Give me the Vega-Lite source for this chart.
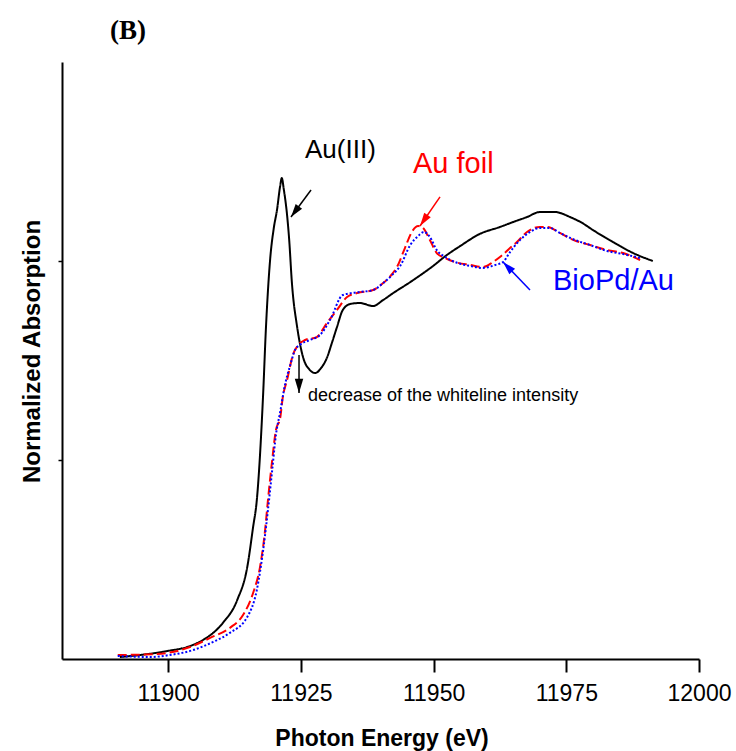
{
  "$schema": "https://vega.github.io/schema/vega-lite/v6.json",
  "width": 637,
  "height": 597,
  "autosize": "none",
  "padding": {"left": 62, "top": 62, "right": 37, "bottom": 92},
  "background": "white",
  "config": {"view": {"stroke": null}},
  "title": {
    "text": "(B)",
    "font": "Liberation Serif",
    "fontSize": 27,
    "fontWeight": "bold",
    "color": "black",
    "anchor": "start",
    "frame": "group",
    "baseline": "alphabetic",
    "dx": 48,
    "dy": 26,
    "offset": 22
  },
  "datasets": {
    "spectra": [
      {"series": "Au(III)", "energy": 11890.9, "absorption": 0.010},
      {"series": "Au(III)", "energy": 11894.7, "absorption": 0.020},
      {"series": "Au(III)", "energy": 11899.8, "absorption": 0.040},
      {"series": "Au(III)", "energy": 11904.1, "absorption": 0.065},
      {"series": "Au(III)", "energy": 11906.9, "absorption": 0.101},
      {"series": "Au(III)", "energy": 11910.3, "absorption": 0.181},
      {"series": "Au(III)", "energy": 11913.0, "absorption": 0.296},
      {"series": "Au(III)", "energy": 11914.9, "absorption": 0.462},
      {"series": "Au(III)", "energy": 11916.0, "absorption": 0.663},
      {"series": "Au(III)", "energy": 11916.7, "absorption": 0.799},
      {"series": "Au(III)", "energy": 11917.9, "absorption": 1.337},
      {"series": "Au(III)", "energy": 11918.4, "absorption": 1.653},
      {"series": "Au(III)", "energy": 11919.2, "absorption": 2.005},
      {"series": "Au(III)", "energy": 11919.9, "absorption": 2.166},
      {"series": "Au(III)", "energy": 11920.5, "absorption": 2.256},
      {"series": "Au(III)", "energy": 11921.1, "absorption": 2.377},
      {"series": "Au(III)", "energy": 11921.4, "absorption": 2.417},
      {"series": "Au(III)", "energy": 11921.8, "absorption": 2.357},
      {"series": "Au(III)", "energy": 11922.4, "absorption": 2.231},
      {"series": "Au(III)", "energy": 11922.8, "absorption": 2.106},
      {"series": "Au(III)", "energy": 11923.3, "absorption": 1.894},
      {"series": "Au(III)", "energy": 11924.3, "absorption": 1.668},
      {"series": "Au(III)", "energy": 11925.4, "absorption": 1.518},
      {"series": "Au(III)", "energy": 11926.7, "absorption": 1.452},
      {"series": "Au(III)", "energy": 11927.7, "absorption": 1.437},
      {"series": "Au(III)", "energy": 11928.8, "absorption": 1.462},
      {"series": "Au(III)", "energy": 11929.9, "absorption": 1.513},
      {"series": "Au(III)", "energy": 11930.9, "absorption": 1.593},
      {"series": "Au(III)", "energy": 11931.8, "absorption": 1.668},
      {"series": "Au(III)", "energy": 11932.9, "absorption": 1.754},
      {"series": "Au(III)", "energy": 11934.3, "absorption": 1.784},
      {"series": "Au(III)", "energy": 11936.1, "absorption": 1.789},
      {"series": "Au(III)", "energy": 11938.6, "absorption": 1.774},
      {"series": "Au(III)", "energy": 11940.5, "absorption": 1.804},
      {"series": "Au(III)", "energy": 11942.4, "absorption": 1.839},
      {"series": "Au(III)", "energy": 11945.6, "absorption": 1.894},
      {"series": "Au(III)", "energy": 11949.9, "absorption": 1.975},
      {"series": "Au(III)", "energy": 11952.5, "absorption": 2.030},
      {"series": "Au(III)", "energy": 11955.0, "absorption": 2.075},
      {"series": "Au(III)", "energy": 11958.7, "absorption": 2.136},
      {"series": "Au(III)", "energy": 11962.5, "absorption": 2.171},
      {"series": "Au(III)", "energy": 11965.0, "absorption": 2.196},
      {"series": "Au(III)", "energy": 11967.6, "absorption": 2.221},
      {"series": "Au(III)", "energy": 11970.0, "absorption": 2.246},
      {"series": "Au(III)", "energy": 11972.9, "absorption": 2.246},
      {"series": "Au(III)", "energy": 11975.7, "absorption": 2.221},
      {"series": "Au(III)", "energy": 11978.0, "absorption": 2.191},
      {"series": "Au(III)", "energy": 11980.0, "absorption": 2.156},
      {"series": "Au(III)", "energy": 11983.8, "absorption": 2.095},
      {"series": "Au(III)", "energy": 11987.6, "absorption": 2.040},
      {"series": "Au(III)", "energy": 11991.3, "absorption": 2.000},
      {"series": "Au foil", "energy": 11890.5, "absorption": 0.020},
      {"series": "Au foil", "energy": 11897.9, "absorption": 0.025},
      {"series": "Au foil", "energy": 11904.1, "absorption": 0.060},
      {"series": "Au foil", "energy": 11907.9, "absorption": 0.106},
      {"series": "Au foil", "energy": 11911.6, "absorption": 0.156},
      {"series": "Au foil", "energy": 11914.1, "absorption": 0.221},
      {"series": "Au foil", "energy": 11916.0, "absorption": 0.332},
      {"series": "Au foil", "energy": 11917.3, "absorption": 0.462},
      {"series": "Au foil", "energy": 11918.2, "absorption": 0.633},
      {"series": "Au foil", "energy": 11918.8, "absorption": 0.799},
      {"series": "Au foil", "energy": 11919.6, "absorption": 1.000},
      {"series": "Au foil", "energy": 11920.3, "absorption": 1.151},
      {"series": "Au foil", "energy": 11921.1, "absorption": 1.211},
      {"series": "Au foil", "energy": 11921.6, "absorption": 1.317},
      {"series": "Au foil", "energy": 11922.4, "absorption": 1.402},
      {"series": "Au foil", "energy": 11923.5, "absorption": 1.528},
      {"series": "Au foil", "energy": 11924.5, "absorption": 1.578},
      {"series": "Au foil", "energy": 11925.8, "absorption": 1.603},
      {"series": "Au foil", "energy": 11928.0, "absorption": 1.618},
      {"series": "Au foil", "energy": 11929.9, "absorption": 1.688},
      {"series": "Au foil", "energy": 11931.8, "absorption": 1.754},
      {"series": "Au foil", "energy": 11933.7, "absorption": 1.819},
      {"series": "Au foil", "energy": 11935.6, "absorption": 1.839},
      {"series": "Au foil", "energy": 11938.6, "absorption": 1.854},
      {"series": "Au foil", "energy": 11940.5, "absorption": 1.889},
      {"series": "Au foil", "energy": 11942.2, "absorption": 1.935},
      {"series": "Au foil", "energy": 11943.1, "absorption": 1.970},
      {"series": "Au foil", "energy": 11944.6, "absorption": 2.065},
      {"series": "Au foil", "energy": 11945.9, "absorption": 2.146},
      {"series": "Au foil", "energy": 11947.1, "absorption": 2.176},
      {"series": "Au foil", "energy": 11948.0, "absorption": 2.166},
      {"series": "Au foil", "energy": 11949.3, "absorption": 2.106},
      {"series": "Au foil", "energy": 11950.6, "absorption": 2.040},
      {"series": "Au foil", "energy": 11952.2, "absorption": 2.015},
      {"series": "Au foil", "energy": 11954.0, "absorption": 1.995},
      {"series": "Au foil", "energy": 11956.9, "absorption": 1.980},
      {"series": "Au foil", "energy": 11959.3, "absorption": 1.970},
      {"series": "Au foil", "energy": 11961.2, "absorption": 1.995},
      {"series": "Au foil", "energy": 11962.5, "absorption": 2.020},
      {"series": "Au foil", "energy": 11964.4, "absorption": 2.065},
      {"series": "Au foil", "energy": 11965.7, "absorption": 2.095},
      {"series": "Au foil", "energy": 11967.6, "absorption": 2.146},
      {"series": "Au foil", "energy": 11970.0, "absorption": 2.171},
      {"series": "Au foil", "energy": 11971.4, "absorption": 2.171},
      {"series": "Au foil", "energy": 11973.8, "absorption": 2.141},
      {"series": "Au foil", "energy": 11976.3, "absorption": 2.106},
      {"series": "Au foil", "energy": 11979.5, "absorption": 2.080},
      {"series": "Au foil", "energy": 11982.7, "absorption": 2.055},
      {"series": "Au foil", "energy": 11985.7, "absorption": 2.040},
      {"series": "Au foil", "energy": 11988.9, "absorption": 2.005},
      {"series": "BioPd/Au", "energy": 11890.5, "absorption": 0.015},
      {"series": "BioPd/Au", "energy": 11896.6, "absorption": 0.010},
      {"series": "BioPd/Au", "energy": 11900.3, "absorption": 0.020},
      {"series": "BioPd/Au", "energy": 11904.7, "absorption": 0.045},
      {"series": "BioPd/Au", "energy": 11908.4, "absorption": 0.085},
      {"series": "BioPd/Au", "energy": 11911.6, "absorption": 0.131},
      {"series": "BioPd/Au", "energy": 11914.9, "absorption": 0.211},
      {"series": "BioPd/Au", "energy": 11916.7, "absorption": 0.347},
      {"series": "BioPd/Au", "energy": 11917.9, "absorption": 0.548},
      {"series": "BioPd/Au", "energy": 11918.8, "absorption": 0.749},
      {"series": "BioPd/Au", "energy": 11919.6, "absorption": 0.950},
      {"series": "BioPd/Au", "energy": 11920.3, "absorption": 1.126},
      {"series": "BioPd/Au", "energy": 11921.1, "absorption": 1.241},
      {"series": "BioPd/Au", "energy": 11922.0, "absorption": 1.377},
      {"series": "BioPd/Au", "energy": 11923.0, "absorption": 1.477},
      {"series": "BioPd/Au", "energy": 11923.9, "absorption": 1.553},
      {"series": "BioPd/Au", "energy": 11924.8, "absorption": 1.578},
      {"series": "BioPd/Au", "energy": 11926.7, "absorption": 1.603},
      {"series": "BioPd/Au", "energy": 11928.6, "absorption": 1.628},
      {"series": "BioPd/Au", "energy": 11930.5, "absorption": 1.704},
      {"series": "BioPd/Au", "energy": 11932.9, "absorption": 1.829},
      {"series": "BioPd/Au", "energy": 11936.1, "absorption": 1.844},
      {"series": "BioPd/Au", "energy": 11938.6, "absorption": 1.854},
      {"series": "BioPd/Au", "energy": 11940.5, "absorption": 1.889},
      {"series": "BioPd/Au", "energy": 11942.4, "absorption": 1.935},
      {"series": "BioPd/Au", "energy": 11943.7, "absorption": 1.975},
      {"series": "BioPd/Au", "energy": 11945.6, "absorption": 2.080},
      {"series": "BioPd/Au", "energy": 11947.1, "absorption": 2.126},
      {"series": "BioPd/Au", "energy": 11948.2, "absorption": 2.146},
      {"series": "BioPd/Au", "energy": 11949.3, "absorption": 2.121},
      {"series": "BioPd/Au", "energy": 11950.6, "absorption": 2.055},
      {"series": "BioPd/Au", "energy": 11952.2, "absorption": 2.020},
      {"series": "BioPd/Au", "energy": 11954.0, "absorption": 1.995},
      {"series": "BioPd/Au", "energy": 11956.9, "absorption": 1.975},
      {"series": "BioPd/Au", "energy": 11959.3, "absorption": 1.965},
      {"series": "BioPd/Au", "energy": 11961.6, "absorption": 1.980},
      {"series": "BioPd/Au", "energy": 11963.1, "absorption": 1.995},
      {"series": "BioPd/Au", "energy": 11964.4, "absorption": 2.045},
      {"series": "BioPd/Au", "energy": 11966.3, "absorption": 2.106},
      {"series": "BioPd/Au", "energy": 11968.2, "absorption": 2.146},
      {"series": "BioPd/Au", "energy": 11970.0, "absorption": 2.166},
      {"series": "BioPd/Au", "energy": 11971.9, "absorption": 2.166},
      {"series": "BioPd/Au", "energy": 11973.8, "absorption": 2.141},
      {"series": "BioPd/Au", "energy": 11976.6, "absorption": 2.106},
      {"series": "BioPd/Au", "energy": 11979.5, "absorption": 2.080},
      {"series": "BioPd/Au", "energy": 11982.7, "absorption": 2.050},
      {"series": "BioPd/Au", "energy": 11985.7, "absorption": 2.035},
      {"series": "BioPd/Au", "energy": 11988.9, "absorption": 2.015}
    ]
  },
  "layer": [
    {
      "data": {"name": "spectra"},
      "mark": {"type": "line", "strokeWidth": 2, "clip": false, "interpolate": "monotone"},
      "encoding": {
        "x": {
          "field": "energy",
          "type": "quantitative",
          "scale": {"domain": [11880, 12000], "nice": false, "zero": false},
          "axis": {
            "values": [11900, 11925, 11950, 11975, 12000],
            "format": "d",
            "grid": false,
            "domainColor": "black",
            "domainWidth": 2,
            "tickColor": "black",
            "tickWidth": 2,
            "tickSize": 13,
            "labelFont": "Liberation Sans",
            "labelFontSize": 23,
            "labelColor": "black",
            "labelBaseline": "alphabetic",
            "labelPadding": 28,
            "labelFlush": false,
            "labelOverlap": false,
            "title": "Photon Energy (eV)",
            "titleFont": "Liberation Sans",
            "titleFontSize": 23,
            "titleFontWeight": "bold",
            "titleColor": "black",
            "titleX": 319.5,
            "titleY": 86,
            "titleAlign": "center",
            "titleBaseline": "alphabetic"
          }
        },
        "y": {
          "field": "absorption",
          "type": "quantitative",
          "scale": {"domain": [0, 3], "nice": false},
          "axis": {
            "values": [1, 2],
            "labels": false,
            "grid": false,
            "domainColor": "black",
            "domainWidth": 2,
            "tickColor": "black",
            "tickWidth": 1.5,
            "tickSize": 4,
            "title": "Normalized Absorption",
            "titleFont": "Liberation Sans",
            "titleFontSize": 24,
            "titleFontWeight": "bold",
            "titleColor": "black",
            "titleAngle": -90,
            "titleX": -22.5,
            "titleY": 289,
            "titleAlign": "center",
            "titleBaseline": "alphabetic"
          }
        },
        "color": {
          "field": "series",
          "type": "nominal",
          "scale": {"domain": ["Au(III)", "Au foil", "BioPd/Au"], "range": ["#000000", "#FF0000", "#0000FF"]},
          "legend": null
        },
        "strokeDash": {
          "field": "series",
          "type": "nominal",
          "scale": {"domain": ["Au(III)", "Au foil", "BioPd/Au"], "range": [[1, 0], [9, 4], [2, 2]]},
          "legend": null
        }
      }
    },
    {
      "data": {"values": [{"x1": 11926.91, "y1": 2.357, "x2": 11923.14, "y2": 2.221}]},
      "layer": [
        {"mark": {"type": "rule", "color": "black", "strokeWidth": 1.5},
         "encoding": {"x": {"field": "x1", "type": "quantitative"}, "y": {"field": "y1", "type": "quantitative"}, "x2": {"field": "x2"}, "y2": {"field": "y2"}}},
        {"mark": {"type": "point", "shape": "M0,0L-0.3,1L0.3,1Z", "filled": true, "size": 700, "angle": 216.5, "color": "black", "opacity": 1, "strokeWidth": 0},
         "encoding": {"x": {"field": "x2", "type": "quantitative"}, "y": {"field": "y2", "type": "quantitative"}}}
      ]
    },
    {
      "data": {"values": [{"x1": 11951.21, "y1": 2.322, "x2": 11947.44, "y2": 2.176}]},
      "layer": [
        {"mark": {"type": "rule", "color": "#FF0000", "strokeWidth": 1.5},
         "encoding": {"x": {"field": "x1", "type": "quantitative"}, "y": {"field": "y1", "type": "quantitative"}, "x2": {"field": "x2"}, "y2": {"field": "y2"}}},
        {"mark": {"type": "point", "shape": "M0,0L-0.3,1L0.3,1Z", "filled": true, "size": 700, "angle": 214.6, "color": "#FF0000", "opacity": 1, "strokeWidth": 0},
         "encoding": {"x": {"field": "x2", "type": "quantitative"}, "y": {"field": "y2", "type": "quantitative"}}}
      ]
    },
    {
      "data": {"values": [{"x1": 11968.16, "y1": 1.854, "x2": 11963.08, "y2": 1.995}]},
      "layer": [
        {"mark": {"type": "rule", "color": "#0000FF", "strokeWidth": 1.5},
         "encoding": {"x": {"field": "x1", "type": "quantitative"}, "y": {"field": "y1", "type": "quantitative"}, "x2": {"field": "x2"}, "y2": {"field": "y2"}}},
        {"mark": {"type": "point", "shape": "M0,0L-0.3,1L0.3,1Z", "filled": true, "size": 700, "angle": 316, "color": "#0000FF", "opacity": 1, "strokeWidth": 0},
         "encoding": {"x": {"field": "x2", "type": "quantitative"}, "y": {"field": "y2", "type": "quantitative"}}}
      ]
    },
    {
      "data": {"values": [{"x1": 11924.65, "y1": 1.528, "x2": 11924.65, "y2": 1.337}]},
      "layer": [
        {"mark": {"type": "rule", "color": "black", "strokeWidth": 1.5},
         "encoding": {"x": {"field": "x1", "type": "quantitative"}, "y": {"field": "y1", "type": "quantitative"}, "x2": {"field": "x2"}, "y2": {"field": "y2"}}},
        {"mark": {"type": "point", "shape": "M0,0L-0.3,1L0.3,1Z", "filled": true, "size": 800, "angle": 180, "color": "black", "opacity": 1, "strokeWidth": 0},
         "encoding": {"x": {"field": "x2", "type": "quantitative"}, "y": {"field": "y2", "type": "quantitative"}}}
      ]
    },
    {
      "data": {"values": [{"x": 11925.78, "y": 2.518, "label": "Au(III)"}]},
      "mark": {"type": "text", "align": "left", "baseline": "alphabetic", "font": "Liberation Sans", "fontSize": 26, "color": "black"},
      "encoding": {"x": {"field": "x", "type": "quantitative"}, "y": {"field": "y", "type": "quantitative"}, "text": {"field": "label"}}
    },
    {
      "data": {"values": [{"x": 11946.12, "y": 2.442, "label": "Au foil"}]},
      "mark": {"type": "text", "align": "left", "baseline": "alphabetic", "font": "Liberation Sans", "fontSize": 29, "color": "#FF0000"},
      "encoding": {"x": {"field": "x", "type": "quantitative"}, "y": {"field": "y", "type": "quantitative"}, "text": {"field": "label"}}
    },
    {
      "data": {"values": [{"x": 11972.5, "y": 1.854, "label": "BioPd/Au"}]},
      "mark": {"type": "text", "align": "left", "baseline": "alphabetic", "font": "Liberation Sans", "fontSize": 29, "color": "#0000FF"},
      "encoding": {"x": {"field": "x", "type": "quantitative"}, "y": {"field": "y", "type": "quantitative"}, "text": {"field": "label"}}
    },
    {
      "data": {"values": [{"x": 11926.34, "y": 1.296, "label": "decrease of the whiteline intensity"}]},
      "mark": {"type": "text", "align": "left", "baseline": "alphabetic", "font": "Liberation Sans", "fontSize": 18, "color": "black"},
      "encoding": {"x": {"field": "x", "type": "quantitative"}, "y": {"field": "y", "type": "quantitative"}, "text": {"field": "label"}}
    }
  ]
}
